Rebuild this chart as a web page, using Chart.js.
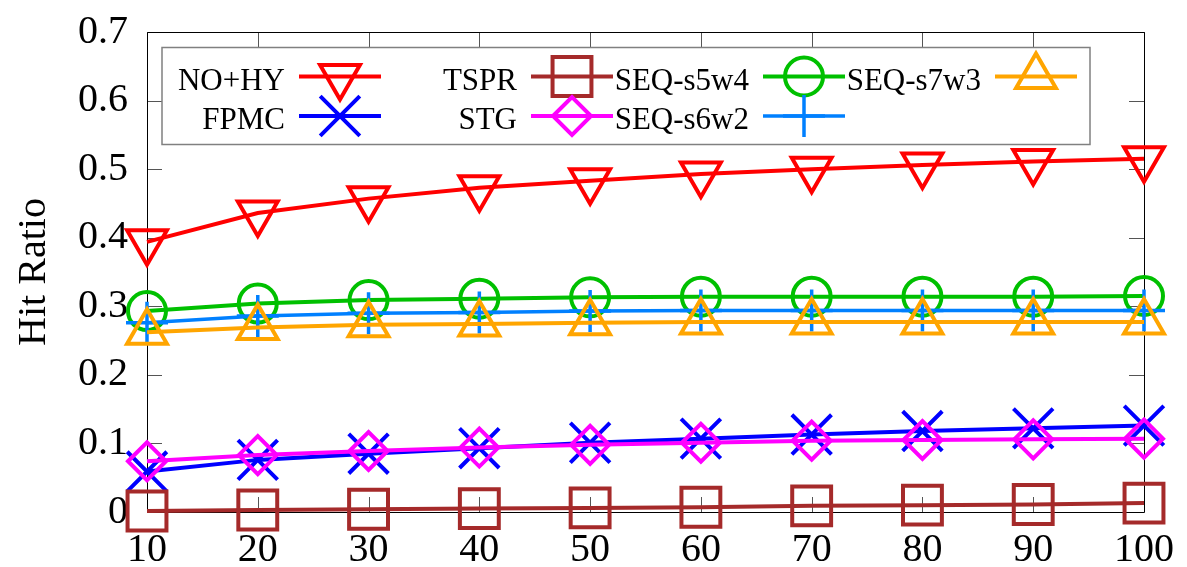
<!DOCTYPE html>
<html>
<head>
<meta charset="utf-8">
<script src="https://cdn.jsdelivr.net/npm/chart.js@4/dist/chart.umd.min.js"></script>
<style>
  html, body { margin: 0; padding: 0; background: #fff; }
  canvas { display: block; }
</style>
</head>
<body>
<canvas id="hitChart" width="1187" height="567"></canvas>
<script>
// Top-N size on the x axis
const categories = ['10', '20', '30', '40', '50', '60', '70', '80', '90', '100'];

// Hit ratio per method
const noHy     = [0.394, 0.436, 0.457, 0.473, 0.483, 0.493, 0.500, 0.506, 0.511, 0.515];
const fpmc     = [0.059, 0.076, 0.085, 0.093, 0.101, 0.107, 0.113, 0.118, 0.122, 0.126];
const tspr     = [0.0015, 0.003, 0.004, 0.005, 0.006, 0.007, 0.009, 0.010, 0.011, 0.013];
const stg      = [0.074, 0.083, 0.089, 0.094, 0.098, 0.101, 0.104, 0.105, 0.106, 0.107];
const seqS5w4  = [0.293, 0.304, 0.309, 0.311, 0.313, 0.314, 0.314, 0.314, 0.314, 0.315];
const seqS6w2  = [0.276, 0.286, 0.290, 0.291, 0.293, 0.294, 0.294, 0.294, 0.294, 0.294];
const seqS7w3  = [0.262, 0.269, 0.273, 0.274, 0.276, 0.277, 0.277, 0.277, 0.277, 0.277];

const yMin = 0, yMax = 0.7, yStep = 0.1;

const SERIF = "'Liberation Serif', 'Times New Roman', serif";

function series(label, data, color, style, radius, rotation, width) {
  return {
    label, data,
    borderColor: color,
    borderWidth: width || 4,
    pointStyle: style,
    pointRadius: radius,
    pointHoverRadius: radius,
    pointRotation: rotation || 0,
    pointBorderColor: color,
    pointBackgroundColor: 'rgba(0,0,0,0)',
    pointBorderWidth: width || 4,
    tension: 0,
    fill: false,
    clip: false
  };
}

const datasets = [
  series('NO+HY',    noHy,    '#ff0000', 'triangle', 23, 180),
  series('FPMC',     fpmc,    '#0000ff', 'crossRot', 28, 0),
  series('TSPR',     tspr,    '#a52a2a', 'rect',     27.5, 0),
  series('STG',      stg,     '#ff00ff', 'rectRot',  19, 0),
  series('SEQ-s5w4', seqS5w4, '#00c000', 'circle',   19, 0),
  series('SEQ-s6w2', seqS6w2, '#0080ff', 'cross',    21, 0, 3.5),
  series('SEQ-s7w3', seqS7w3, '#ffa500', 'triangle', 23, 0)
];
// later series are painted on top
datasets.forEach((d, i) => { d.order = datasets.length - i; });

// marker shapes, same geometry as Chart.js point styles
function drawMarker(ctx, ds, x, y) {
  const opts = { pointStyle: ds.pointStyle, radius: ds.pointRadius, rotation: ds.pointRotation, borderWidth: ds.pointBorderWidth };
  ctx.save();
  ctx.strokeStyle = ds.pointBorderColor;
  ctx.fillStyle = 'rgba(0,0,0,0)';
  ctx.lineWidth = ds.pointBorderWidth;
  if (Chart.helpers && Chart.helpers.drawPoint) {
    Chart.helpers.drawPoint(ctx, opts, x, y);
    ctx.restore();
    return;
  }
  const r = opts.radius;
  let rad = (opts.rotation || 0) * Math.PI / 180;
  ctx.beginPath();
  switch (opts.pointStyle) {
    case 'triangle':
      ctx.moveTo(x + Math.sin(rad) * r, y - Math.cos(rad) * r);
      rad += 2 * Math.PI / 3;
      ctx.lineTo(x + Math.sin(rad) * r, y - Math.cos(rad) * r);
      rad += 2 * Math.PI / 3;
      ctx.lineTo(x + Math.sin(rad) * r, y - Math.cos(rad) * r);
      ctx.closePath();
      break;
    case 'rect': {
      const s = Math.SQRT1_2 * r;
      ctx.rect(x - s, y - s, 2 * s, 2 * s);
      break;
    }
    case 'rectRot':
      ctx.moveTo(x - r, y); ctx.lineTo(x, y - r); ctx.lineTo(x + r, y); ctx.lineTo(x, y + r);
      ctx.closePath();
      break;
    case 'circle':
      ctx.arc(x, y, r, 0, Math.PI * 2);
      ctx.closePath();
      break;
    case 'cross':
      ctx.moveTo(x, y - r); ctx.lineTo(x, y + r);
      ctx.moveTo(x - r, y); ctx.lineTo(x + r, y);
      break;
    case 'crossRot': {
      const o = Math.SQRT1_2 * r;
      ctx.moveTo(x - o, y - o); ctx.lineTo(x + o, y + o);
      ctx.moveTo(x - o, y + o); ctx.lineTo(x + o, y - o);
      break;
    }
  }
  ctx.stroke();
  ctx.restore();
}

// plot border with inward ticks mirrored on all four sides
const framePlugin = {
  id: 'frame',
  beforeDatasetsDraw(chart) {
    const { ctx, chartArea: a, scales: { x, y } } = chart;
    const len = 15;
    ctx.save();
    ctx.strokeStyle = '#555';
    ctx.lineWidth = 1;
    ctx.beginPath();
    x.ticks.forEach((t, i) => {
      const px = Math.round(x.getPixelForTick(i)) + 0.5;
      ctx.moveTo(px, a.bottom); ctx.lineTo(px, a.bottom - len);
      ctx.moveTo(px, a.top); ctx.lineTo(px, a.top + len);
    });
    y.ticks.forEach((t, i) => {
      const py = Math.round(y.getPixelForTick(i)) + 0.5;
      ctx.moveTo(a.left, py); ctx.lineTo(a.left + len, py);
      ctx.moveTo(a.right, py); ctx.lineTo(a.right - len, py);
    });
    ctx.stroke();
    ctx.strokeStyle = '#000';
    ctx.beginPath();
    const l = Math.round(a.left) + 0.5, r = Math.round(a.right) + 0.5;
    const t = Math.round(a.top) + 0.5, b = Math.round(a.bottom) + 0.5;
    ctx.rect(l, t, r - l, b - t);
    ctx.stroke();
    ctx.restore();
  }
};

// key box: label text, then a line sample with its marker; two rows, filled column by column
const keyPlugin = {
  id: 'key',
  afterDatasetsDraw(chart) {
    const { ctx, chartArea: a } = chart;
    const left = a.left + 15, top = a.top + 15.5;
    const right = a.left + 943, bottom = a.top + 112.5;
    ctx.save();
    ctx.fillStyle = '#fff';
    ctx.fillRect(left, top, right - left, bottom - top);
    ctx.strokeStyle = '#808080';
    ctx.lineWidth = 1.5;
    ctx.strokeRect(left, top, right - left, bottom - top);

    const rows = [top + 29, top + 68.5];
    const colStep = 232;
    const sampleLen = 82;
    chart.data.datasets.forEach((ds, i) => {
      const col = Math.floor(i / 2), row = i % 2;
      const textRight = left + 123 + col * colStep;
      const yy = rows[row];
      ctx.fillStyle = '#000';
      ctx.font = `31px ${SERIF}`;
      ctx.textAlign = 'right';
      ctx.textBaseline = 'alphabetic';
      ctx.fillText(ds.label, textRight, yy + 13);
      const x0 = textRight + 14;
      ctx.strokeStyle = ds.borderColor;
      ctx.lineWidth = ds.borderWidth;
      ctx.beginPath();
      ctx.moveTo(x0, yy); ctx.lineTo(x0 + sampleLen, yy);
      ctx.stroke();
      drawMarker(ctx, ds, x0 + sampleLen / 2, yy);
    });
    ctx.restore();
  }
};

new Chart(document.getElementById('hitChart'), {
  type: 'line',
  data: { labels: categories, datasets },
  options: {
    responsive: false,
    animation: false,
    events: [],
    layout: { padding: { top: 30, right: 43, left: 0, bottom: 0 } },
    plugins: {
      legend: { display: false },
      tooltip: { enabled: false }
    },
    scales: {
      x: {
        type: 'category',
        offset: false,
        grid: { display: false, drawTicks: false },
        border: { display: false },
        ticks: {
          color: '#000',
          font: { family: SERIF, size: 40 },
          padding: 14,
          maxRotation: 0,
          autoSkip: false
        },
        afterFit(scale) {
          scale.height = 55;
          scale.paddingLeft = 0;
          scale.paddingRight = 0;
        }
      },
      y: {
        min: yMin,
        max: yMax,
        grid: { display: false, drawTicks: false },
        border: { display: false },
        ticks: {
          stepSize: yStep,
          color: '#000',
          font: { family: SERIF, size: 40 },
          padding: 19,
          callback: (v) => (Math.abs(v) < 1e-9 ? '0' : Number(v).toFixed(1))
        },
        title: {
          display: true,
          text: 'Hit Ratio',
          color: '#000',
          font: { family: SERIF, size: 40 },
          padding: { top: 10, bottom: 0 }
        },
        afterFit(scale) {
          scale.width = 147;
          scale.paddingTop = 0;
          scale.paddingBottom = 0;
        }
      }
    }
  },
  plugins: [framePlugin, keyPlugin]
});
</script>
</body>
</html>
